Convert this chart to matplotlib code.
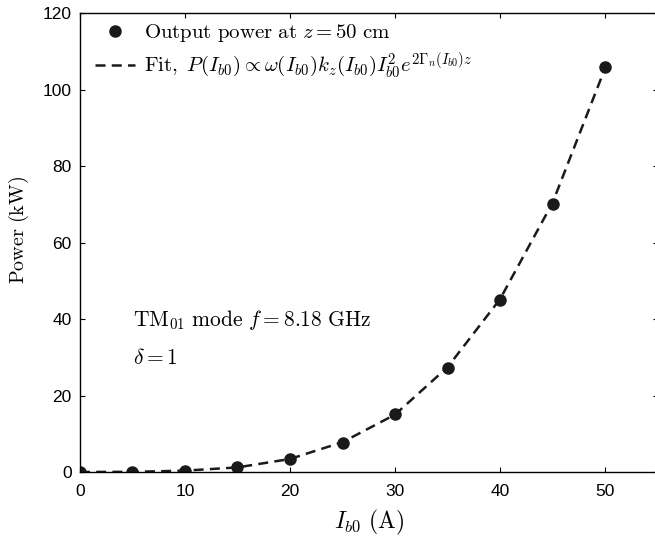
import numpy as np
import matplotlib.pyplot as plt

plt.rcParams['mathtext.fontset'] = 'cm'
plt.rcParams['font.family'] = ['Liberation Sans', 'DejaVu Sans']

# beam current (A) and measured output power (kW)
current = [0, 5, 10, 15, 20, 25, 30, 35, 40, 45, 50]
power = [0.0, 0.05, 0.3, 1.3, 3.3, 7.6, 15.2, 27.1, 45.0, 70.2, 105.8]
# fitted power at the same currents
power_fit = [0.0, 0.04, 0.35, 1.2, 3.4, 7.8, 15.0, 27.4, 45.2, 70.4, 105.6]

fig = plt.figure(figsize=(6.55, 5.38), dpi=100)
ax = fig.add_axes([0.122, 0.1227, 0.882, 0.853])

ax.plot(current, power, 'o', color='#1a1a1a', markersize=8,
        label=r'$\mathrm{Output\ power\ at\ }z = 50\ \mathrm{cm}$')
ax.plot(current, power_fit, '--', color='#1a1a1a', lw=1.8, dashes=(4, 2.5),
        label=r'$\mathrm{Fit,}\ P(I_{b0}) \propto \omega(I_{b0})k_z(I_{b0})I_{b0}^2 e^{2\Gamma_n(I_{b0})z}$')

ax.set_xlim(0, 55)
ax.set_ylim(0, 120)
ax.set_xticks([0, 10, 20, 30, 40, 50])
ax.set_yticks([0, 20, 40, 60, 80, 100, 120])
ax.tick_params(direction='in', top=True, right=True, labelsize=12.5, length=3.5)
ax.tick_params(axis='x', pad=9)
ax.tick_params(axis='y', pad=6)
for s in ax.spines.values():
    s.set_linewidth(1.0)

ax.set_xlabel(r'$I_{b0}\ \mathrm{(A)}$', fontsize=17)
ax.set_ylabel(r'$\mathrm{Power\ (kW)}$', fontsize=14.5)
ax.xaxis.set_label_coords(0.5, -0.079)
ax.yaxis.set_label_coords(-0.085, 0.527)

ax.text(5.05, 39.7, r'$\mathrm{TM}_{01}\ \mathrm{mode}\ f = 8.18\ \mathrm{GHz}$', fontsize=15.5, va='center')
ax.text(5.05, 29.8, r'$\delta = 1$', fontsize=15.5, va='center')

ax.legend(loc='upper left', bbox_to_anchor=(0.01, 1.0), frameon=False, fontsize=15,
          handlelength=1.9, borderaxespad=0.0, borderpad=0.45, handletextpad=0.45,
          labelspacing=0.3)

plt.savefig('out.png', dpi=100)
